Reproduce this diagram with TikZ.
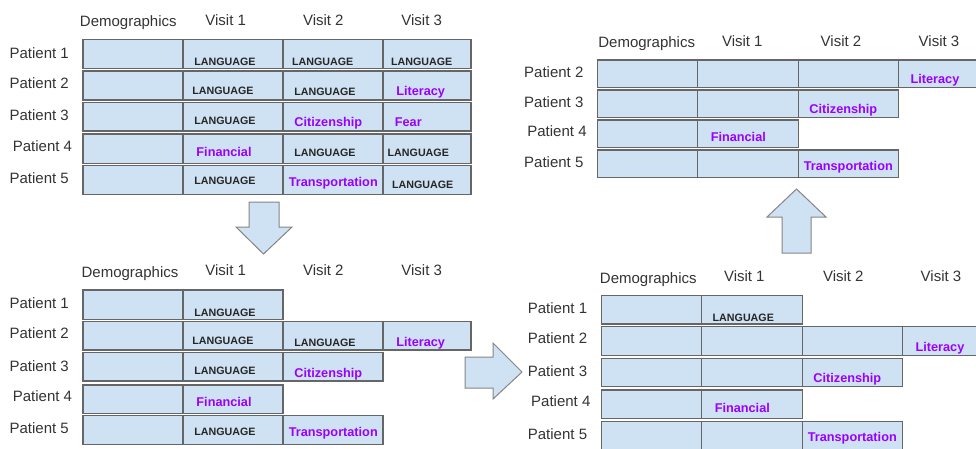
\documentclass[tikz,border=0pt]{standalone}
\usepackage{fontspec}
\setmainfont{Liberation Sans}
\usetikzlibrary{fit}

\definecolor{cellblue}{HTML}{CFE2F3}
\definecolor{cellline}{HTML}{666666}
\definecolor{arrowline}{HTML}{858585}
\definecolor{tagpurple}{HTML}{9900FF}
\definecolor{labelgray}{HTML}{333333}

\tikzset{
  cell/.style={draw=cellline, fill=cellblue, line width=1.2pt, inner sep=0pt, outer sep=0pt},
  hdr/.style={font=\fontsize{15}{18}\selectfont, text=labelgray, text height=10.7pt, text depth=0pt, inner sep=0pt},
  lang/.style={font=\bfseries\fontsize{10.7}{12}\selectfont, text=black!85, text height=7.7pt, text depth=0pt, inner sep=0pt},
  tag/.style={font=\bfseries\fontsize{12.7}{14}\selectfont, text=tagpurple, text height=9.1pt, text depth=0pt, inner sep=0pt},
  blockarrow/.style={draw=arrowline, fill=cellblue, line width=1pt, line join=miter},
}

% one cell: name, x1, y1, x2, y2
\newcommand{\mkcell}[5]{\node[cell, fit={(#2,#3) (#4,#5)}] (#1) {};}

\begin{document}
\begin{tikzpicture}[x=1pt, y=-1pt]
\useasboundingbox (0,0) rectangle (976,448);
\clip (0,0) rectangle (976,448);

% ---------------- table A (top left) ----------------
\node[hdr] (A-h0) at (128.3,20.7) {Demographics};
\node[hdr] (A-h1) at (225.7,20.2) {Visit 1};
\node[hdr] (A-h2) at (323.3,20.2) {Visit 2};
\node[hdr] (A-h3) at (421.7,20.2) {Visit 3};
\foreach \r/\ya/\yb/\n in {1/39.3/68.3/4, 2/71/100/4, 3/102.7/131/4, 4/134/163.3/4, 5/165.7/194.3/4}{
  \foreach \c/\xa/\xb in {0/83/183, 1/183/283, 2/283/383, 3/383/471}{
    \ifnum\c<\n\relax \mkcell{A-\r-\c}{\xa}{\ya}{\xb}{\yb}\fi
  }
}
\node[hdr] (A-p1) at (39.2,53) {Patient 1};
\node[hdr] (A-p2) at (39.2,82.8) {Patient 2};
\node[hdr] (A-p3) at (39.2,115.3) {Patient 3};
\node[hdr] (A-p4) at (42.5,145.8) {Patient 4};
\node[hdr] (A-p5) at (39.2,177.8) {Patient 5};

\node[lang] (A-t11) at (225,61.7) {LANGUAGE};
\node[lang] (A-t12) at (322.7,61.7) {LANGUAGE};
\node[lang] (A-t13) at (421.7,61.7) {LANGUAGE};
\node[lang] (A-t21) at (223,91) {LANGUAGE};
\node[lang] (A-t22) at (325,91.7) {LANGUAGE};
\node[tag]  (A-t23) at (420.7,91) {Literacy};
\node[lang] (A-t31) at (225,120.7) {LANGUAGE};
\node[tag]  (A-t32) at (328.3,122.3) {Citizenship};
\node[tag]  (A-t33) at (408.3,122.3) {Fear};
\node[tag]  (A-t41) at (224,152.3) {Financial};
\node[lang] (A-t42) at (325,152.3) {LANGUAGE};
\node[lang] (A-t43) at (418.3,152.3) {LANGUAGE};
\node[lang] (A-t51) at (225,181) {LANGUAGE};
\node[tag]  (A-t52) at (333.3,181.7) {Transportation};
\node[lang] (A-t53) at (422.7,184.3) {LANGUAGE};

% ---------------- table B (bottom left) ----------------
\node[hdr] (B-h0) at (130,271.7) {Demographics};
\node[hdr] (B-h1) at (225.7,270.5) {Visit 1};
\node[hdr] (B-h2) at (323.3,270.5) {Visit 2};
\node[hdr] (B-h3) at (421.7,270.5) {Visit 3};
\foreach \r/\ya/\yb/\n in {1/290/319.3/2, 2/321.7/350/4, 3/352.7/381/3, 4/385/413.3/2, 5/415.7/444.3/3}{
  \foreach \c/\xa/\xb in {0/83/183, 1/183/283, 2/283/383, 3/383/471}{
    \ifnum\c<\n\relax \mkcell{B-\r-\c}{\xa}{\ya}{\xb}{\yb}\fi
  }
}
\node[hdr] (B-p1) at (39.2,303) {Patient 1};
\node[hdr] (B-p2) at (39.2,332.7) {Patient 2};
\node[hdr] (B-p3) at (39.2,365.7) {Patient 3};
\node[hdr] (B-p4) at (42.5,395.7) {Patient 4};
\node[hdr] (B-p5) at (39.2,428.3) {Patient 5};

\node[lang] (B-t11) at (225,312.3) {LANGUAGE};
\node[lang] (B-t21) at (223,341) {LANGUAGE};
\node[lang] (B-t22) at (325,342.3) {LANGUAGE};
\node[tag]  (B-t23) at (420.7,341.7) {Literacy};
\node[lang] (B-t31) at (225,370.7) {LANGUAGE};
\node[tag]  (B-t32) at (328.3,372.7) {Citizenship};
\node[tag]  (B-t41) at (224,402.3) {Financial};
\node[lang] (B-t51) at (225,431.7) {LANGUAGE};
\node[tag]  (B-t52) at (333.3,431.7) {Transportation};

% ---------------- table C (bottom right) ----------------
\node[hdr] (C-h0) at (648.3,277.7) {Demographics};
\node[hdr] (C-h1) at (744.3,276.5) {Visit 1};
\node[hdr] (C-h2) at (843.3,276.5) {Visit 2};
\node[hdr] (C-h3) at (941,276.5) {Visit 3};
\foreach \r/\ya/\yb/\n in {1/295.7/324/2, 2/326.7/355.7/4, 3/358.3/386.7/3, 4/390/418.3/2, 5/421.7/450/3}{
  \foreach \c/\xa/\xb in {0/601.7/701.7, 1/701.7/802.3, 2/802.3/902.3, 3/902.3/990}{
    \ifnum\c<\n\relax \mkcell{C-\r-\c}{\xa}{\ya}{\xb}{\yb}\fi
  }
}
\node[hdr] (C-p1) at (557.5,308) {Patient 1};
\node[hdr] (C-p2) at (557.5,338.3) {Patient 2};
\node[hdr] (C-p3) at (557.5,371) {Patient 3};
\node[hdr] (C-p4) at (560.8,400.7) {Patient 4};
\node[hdr] (C-p5) at (557.5,434) {Patient 5};

\node[lang] (C-t11) at (743.3,317.3) {LANGUAGE};
\node[tag]  (C-t23) at (940,346.7) {Literacy};
\node[tag]  (C-t32) at (847.3,378.3) {Citizenship};
\node[tag]  (C-t41) at (742.3,407.7) {Financial};
\node[tag]  (C-t52) at (852.3,437.3) {Transportation};

% ---------------- table D (top right) ----------------
\node[hdr] (D-h0) at (646.7,42.5) {Demographics};
\node[hdr] (D-h1) at (742.3,41.5) {Visit 1};
\node[hdr] (D-h2) at (841,41.5) {Visit 2};
\node[hdr] (D-h3) at (939,41.5) {Visit 3};
\foreach \r/\ya/\yb/\n in {2/60/87.7/4, 3/90/117.7/3, 4/120/147.7/2, 5/150/177.7/3}{
  \foreach \c/\xa/\xb in {0/597.3/697.7, 1/697.7/798.3, 2/798.3/898.3, 3/898.3/986}{
    \ifnum\c<\n\relax \mkcell{D-\r-\c}{\xa}{\ya}{\xb}{\yb}\fi
  }
}
\node[hdr] (D-p2) at (553.8,71.7) {Patient 2};
\node[hdr] (D-p3) at (553.8,101.7) {Patient 3};
\node[hdr] (D-p4) at (557,131) {Patient 4};
\node[hdr] (D-p5) at (553.8,161.7) {Patient 5};

\node[tag] (D-t23) at (935,79.3) {Literacy};
\node[tag] (D-t32) at (843.3,109) {Citizenship};
\node[tag] (D-t41) at (738.3,136.7) {Financial};
\node[tag] (D-t52) at (848.3,165.7) {Transportation};

% ---------------- block arrows between the stages ----------------
\draw[blockarrow] (249,202) -- (279,202) -- (279,227) -- (292,227) -- (263.5,254)
  -- (236,227) -- (249,227) -- cycle;
\draw[blockarrow] (465,357) -- (493,357) -- (493,343) -- (522,372) -- (493,399)
  -- (493,388) -- (465,388) -- cycle;
\draw[blockarrow] (782,253) -- (782,217) -- (767,217) -- (796.5,189) -- (826,217)
  -- (811,217) -- (811,253) -- cycle;
\end{tikzpicture}
\end{document}
